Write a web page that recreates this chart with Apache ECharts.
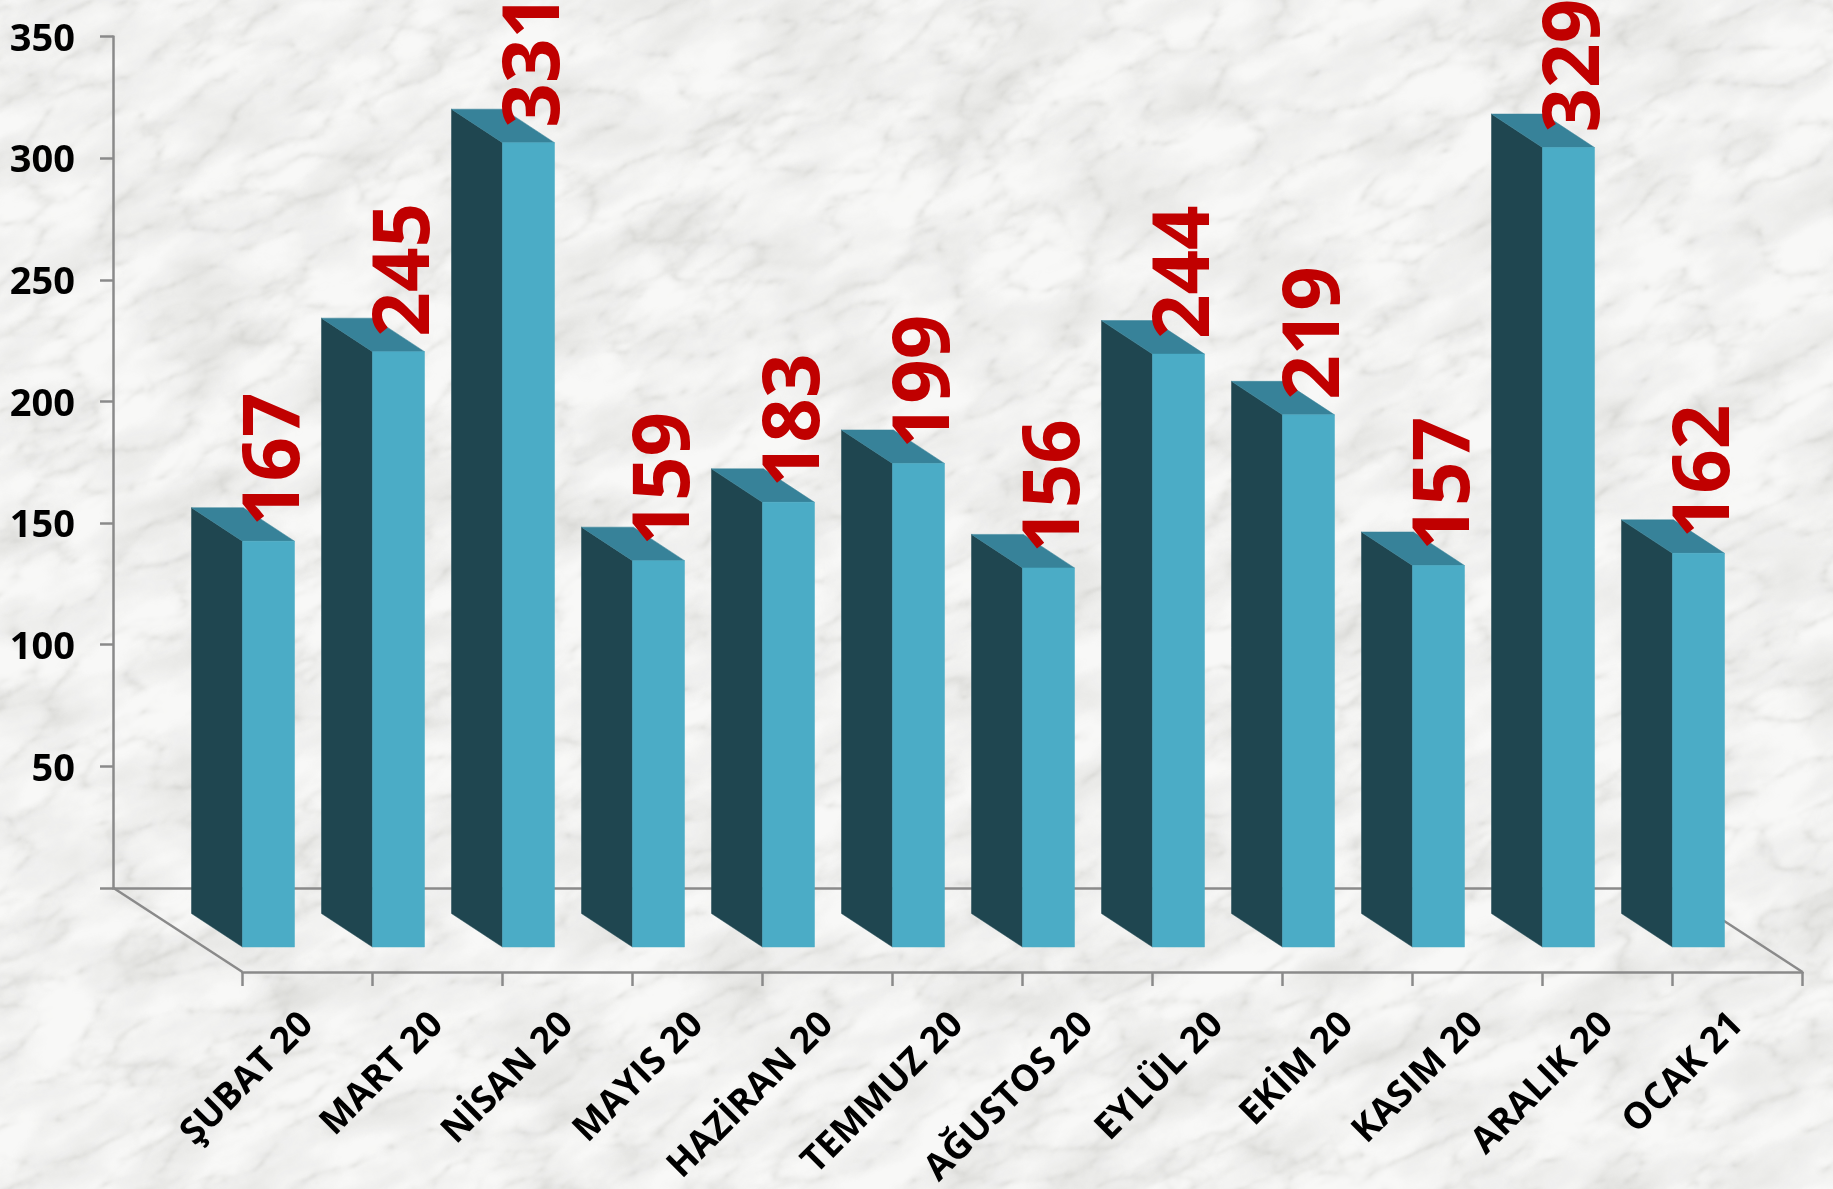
<!DOCTYPE html>
<html>
<head>
<meta charset="utf-8">
<style>
html,body{margin:0;padding:0;width:1833px;height:1189px;overflow:hidden;background:#f6f6f5}
#bg{position:absolute;left:0;top:0}
#c{position:absolute;left:0;top:0;width:1833px;height:1189px}
</style>
<script src="https://cdn.jsdelivr.net/npm/echarts@6/dist/echarts.min.js"></script>
</head>
<body>
<svg id="bg" width="1833" height="1189" xmlns="http://www.w3.org/2000/svg">
  <filter id="mottle" x="0" y="0" width="100%" height="100%" color-interpolation-filters="sRGB">
    <feTurbulence type="fractalNoise" baseFrequency="0.009 0.022" numOctaves="6" seed="4"/>
    <feColorMatrix type="matrix" values="0 0 0 0 0.5  0 0 0 0 0.5  0 0 0 0 0.47  0.32 0 0 0 -0.115"/>
    <feGaussianBlur stdDeviation="1.4"/>
  </filter>
  <filter id="marble" x="0" y="0" width="100%" height="100%" color-interpolation-filters="sRGB">
    <feTurbulence type="turbulence" baseFrequency="0.012 0.024" numOctaves="5" seed="11"/>
    <feColorMatrix type="matrix" values="0 0 0 0 0  0 0 0 0 0  0 0 0 0 0  1 0 0 0 0"/>
    <feComponentTransfer>
      <feFuncA type="table" tableValues="0.2 0.1 0.04 0.01 0 0 0 0 0 0 0"/>
    </feComponentTransfer>
    <feGaussianBlur stdDeviation="1.1"/>
    <feColorMatrix type="matrix" values="0 0 0 0 0.5  0 0 0 0 0.5  0 0 0 0 0.46  0 0 0 1 0"/>
  </filter>
  <rect width="1833" height="1189" fill="#f8f8f7"/>
  <g transform="rotate(-25 916 594)">
    <rect x="-500" y="-600" width="2900" height="2400" filter="url(#mottle)"/>
    <rect x="-500" y="-600" width="2900" height="2400" filter="url(#marble)"/>
  </g>
</svg>
<div id="c"></div>
<script>
const categories = ['ŞUBAT 20','MART 20','NİSAN 20','MAYIS 20','HAZİRAN 20','TEMMUZ 20','AĞUSTOS 20','EYLÜL 20','EKİM 20','KASIM 20','ARALIK 20','OCAK 21'];
const values = [167,245,331,159,183,199,156,244,219,157,329,162];
const yTicks = {min:0,max:350,interval:50};

const FONT = '"Open Sans"';
const AXIS = '#8a8a8a';
const FRONT = '#4BACC6', SIDE = '#1F4650', TOP = '#378299', LABEL = '#C00000';

// 3D projection constants (pixels), the values still go through the axis scale
const depthX = -51, depthY = -33.5, floorInset = -25, barW = 52;
const wallDX = -129, wallDY = -84;

const chart = echarts.init(document.getElementById('c'), null, {renderer:'canvas', width:1833, height:1189});
const colorTransparent = 'rgba(0,0,0,0)';

function renderFloor(params, api){
  const cs = params.coordSys;
  const yb = cs.y + cs.height, xl = cs.x, xr = cs.x + cs.width;
  const ln = (x1,y1,x2,y2)=>({type:'line',shape:{x1,y1,x2,y2},style:{stroke:AXIS,lineWidth:2.5},silent:true});
  return {type:'group',children:[
    ln(xl,yb,xl+wallDX,yb+wallDY),
    ln(xr,yb,xr+wallDX,yb+wallDY)
  ]};
}
function renderBar(params, api){
  const i = api.value(0), v = api.value(1);
  const band = api.size([1,0])[0];
  const c = api.coord([i,v]), c0 = api.coord([i,0]);
  const xl = c[0]-band/2, xr = xl+barW;
  const yTop = c[1]+floorInset, yBot = c0[1]+floorInset;
  const poly = (points,fill)=>({type:'polygon',shape:{points},style:{fill,stroke:fill,lineWidth:0.5},silent:true});
  return {type:'group',children:[
    poly([[xl,yTop],[xl+depthX,yTop+depthY],[xl+depthX,yBot+depthY],[xl,yBot]],SIDE),
    poly([[xl,yTop],[xl+depthX,yTop+depthY],[xr+depthX,yTop+depthY],[xr,yTop]],TOP),
    poly([[xl,yTop],[xr,yTop],[xr,yBot],[xl,yBot]],FRONT),
    {type:'text',x:xl+34,y:yTop-15,rotation:Math.PI/2,silent:true,
     style:{text:String(v),fill:LABEL,font:'bold 78px '+FONT,align:'left',verticalAlign:'middle'}}
  ]};
}

chart.setOption({
  animation:false,
  backgroundColor:colorTransparent,
  grid:[
    {left:113,top:36.5,width:1561,height:851.5,outerBoundsMode:'none'},
    {left:242.5,top:121.5,width:1560,height:850.5,outerBoundsMode:'none'}
  ],
  xAxis:[
    {gridIndex:0,type:'category',data:categories,
     axisLine:{show:true,lineStyle:{color:AXIS,width:2.5}},axisTick:{show:false},axisLabel:{show:false}},
    {gridIndex:1,type:'category',data:categories,
     axisLine:{show:true,lineStyle:{color:AXIS,width:2.5}},
     axisTick:{show:true,alignWithLabel:false,length:14,lineStyle:{color:AXIS,width:2.5}},
     axisLabel:{show:true,interval:0,rotate:45,margin:47,color:'#000',fontFamily:FONT,fontWeight:'bold',fontSize:36.5}}
  ],
  yAxis:[
    {gridIndex:0,type:'value',min:yTicks.min,max:yTicks.max,interval:yTicks.interval,
     axisLine:{show:true,lineStyle:{color:AXIS,width:2.5}},
     axisTick:{show:true,length:13,lineStyle:{color:AXIS,width:2.5}},
     splitLine:{show:false},
     axisLabel:{show:true,margin:38,
       formatter:v=>v===0?'':'{a|'+v+'}',
       rich:{a:{color:'#000',fontFamily:FONT,fontWeight:'bold',fontSize:38,padding:[7,0,0,0]}}}},
    {gridIndex:1,type:'value',min:yTicks.min,max:yTicks.max,interval:yTicks.interval,show:false,splitLine:{show:false}}
  ],
  series:[
    {type:'custom',xAxisIndex:1,yAxisIndex:1,renderItem:renderFloor,data:[[0,0]],clip:false,silent:true,z:1},
    {type:'custom',xAxisIndex:1,yAxisIndex:1,renderItem:renderBar,clip:false,silent:true,z:3,
     encode:{x:0,y:1},data:values.map((v,i)=>[i,v])}
  ]
});
</script>
</body>
</html>
